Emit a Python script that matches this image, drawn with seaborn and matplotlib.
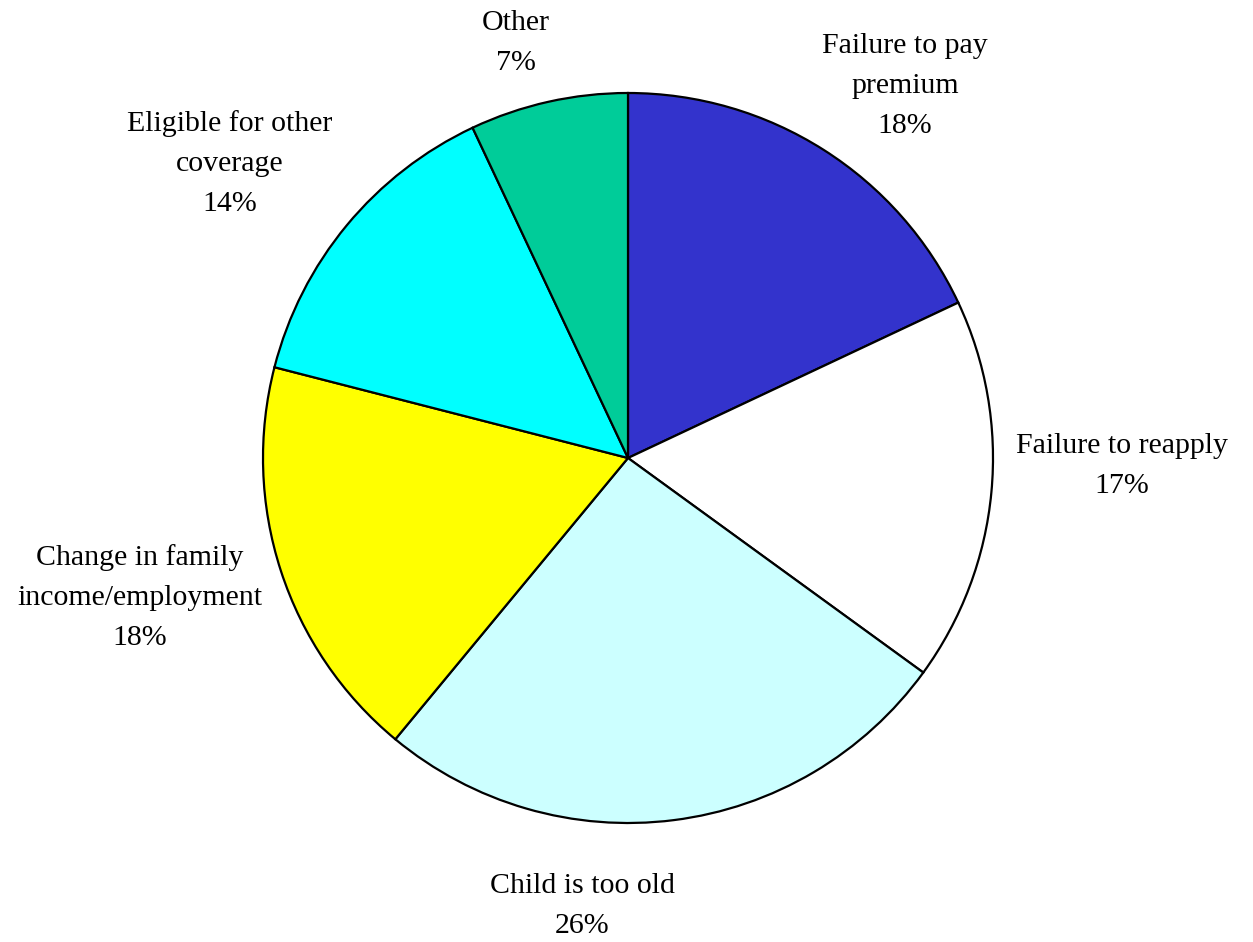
import matplotlib
matplotlib.use("Agg")
import matplotlib.pyplot as plt
import seaborn as sns

# Reasons for disenrollment, clockwise from the top
categories = [
    "Failure to pay\npremium",
    "Failure to reapply",
    "Child is too old",
    "Change in family\nincome/employment",
    "Eligible for other\ncoverage",
    "Other",
]
shares = [18, 17, 26, 18, 14, 7]
colors = ["#3333CC", "#FFFFFF", "#CCFFFF", "#FFFF00", "#00FFFF", "#00CC99"]

# Label anchor points in figure pixels (x, y from top)
label_pos = [(905, 86), (1122, 466), (582, 906), (140, 598), (230, 164), (516, 43)]

sns.set_theme(style="white")
plt.rcParams["font.family"] = ["Liberation Serif", "DejaVu Serif"]

W, H = 1253, 942
fig = plt.figure(figsize=(W / 100, H / 100), dpi=100)
ax = fig.add_axes([0, 0, 1, 1])

ax.pie(
    shares,
    colors=colors,
    startangle=90,
    counterclock=False,
    center=(628, H - 458),
    radius=365,
    wedgeprops=dict(edgecolor="black", linewidth=1.6),
    frame=True,
)
ax.set_xlim(0, W)
ax.set_ylim(0, H)
ax.set_aspect("equal")
ax.axis("off")

for cat, val, (px, py) in zip(categories, shares, label_pos):
    ax.text(px, H - py, f"{cat}\n{val}%", ha="center", va="center",
            fontsize=21.5, linespacing=1.7, color="black")

fig.savefig("out.png", dpi=100, facecolor="white")
